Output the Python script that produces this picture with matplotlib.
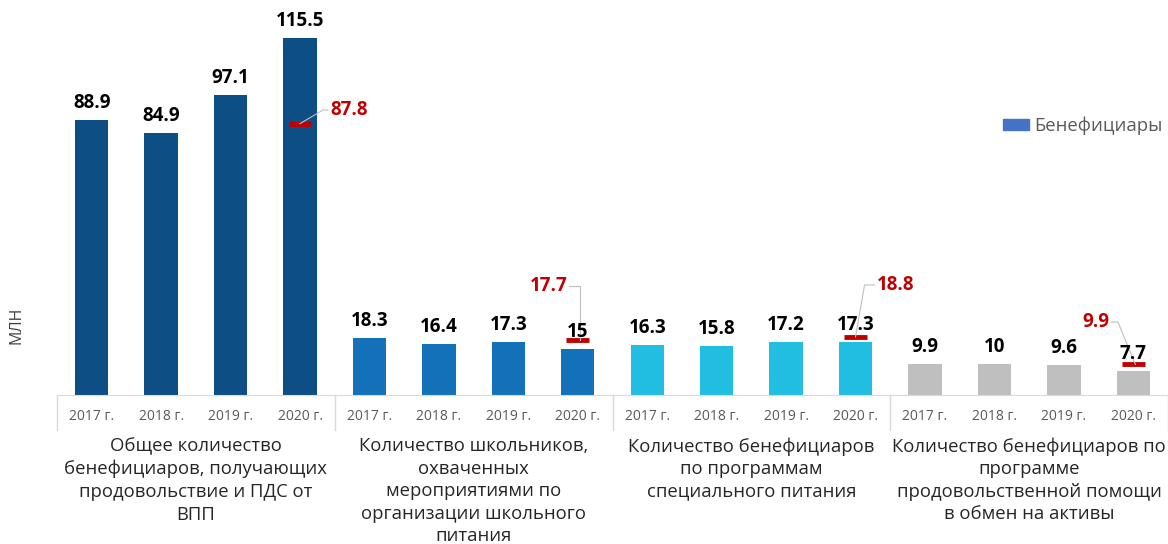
import numpy as np
import matplotlib
matplotlib.use('Agg')
import matplotlib.pyplot as plt
from matplotlib.patches import Patch
import matplotlib.transforms as mtransforms

plt.rcParams['font.family'] = ['Open Sans', 'DejaVu Sans']

# данные
years = ['2017 г.', '2018 г.', '2019 г.', '2020 г.']
group_labels = [
    'Общее количество\nбенефициаров, получающих\nпродовольствие и ПДС от\nВПП',
    'Количество школьников,\nохваченных\nмероприятиями по\nорганизации школьного\nпитания',
    'Количество бенефициаров\nпо программам\nспециального питания',
    'Количество бенефициаров по\nпрограмме\nпродовольственной помощи\nв обмен на активы',
]
values_total = [88.9, 84.9, 97.1, 115.5]
values_school = [18.3, 16.4, 17.3, 15]
values_special = [16.3, 15.8, 17.2, 17.3]
values_assets = [9.9, 10, 9.6, 7.7]
targets_2020 = [87.8, 17.7, 18.8, 9.9]

series = [values_total, values_school, values_special, values_assets]
colors = ['#0D4F84', '#1271B9', '#22BEE1', '#BFBFBF']
red = '#C00000'

fig = plt.figure(figsize=(11.68, 5.44), dpi=100)
ax = fig.add_axes([57 / 1168, 1 - 395 / 544, 1 - 57 / 1168, 395 / 544])

# столбцы
for g, vals in enumerate(series):
    x = np.arange(4) + g * 4
    ax.bar(x, vals, width=0.48, color=colors[g], zorder=2)
    for xi, v in zip(x, vals):
        ax.annotate(f'{v:g}', (xi, v), xytext=(0, 5), textcoords='offset points',
                    ha='center', va='bottom', fontsize=13.5, fontweight='bold',
                    color='black', zorder=4)

# целевые значения 2020 г. (красные отметки)
x2020 = np.arange(4) * 4 + 3
ax.hlines(targets_2020, x2020 - 0.165, x2020 + 0.165, colors=red, linewidth=3.5, zorder=3)

# выноски для целевых значений
lead = '#BFBFBF'
# 87.8
ax.plot([x2020[0], x2020[0] + 0.33, x2020[0] + 0.4], [targets_2020[0], 92.2, 92.2],
        color=lead, lw=0.8, zorder=3)
ax.text(x2020[0] + 0.43, 92.2, f'{targets_2020[0]:g}', color=red, fontsize=13.5,
        fontweight='bold', ha='left', va='center')
# 17.7
ax.plot([x2020[1] - 0.12, x2020[1] + 0.03, x2020[1] + 0.03], [35.3, 35.3, targets_2020[1]],
        color=lead, lw=0.8, zorder=3)
ax.text(x2020[1] - 0.15, 35.3, f'{targets_2020[1]:g}', color=red, fontsize=13.5,
        fontweight='bold', ha='right', va='center')
# 18.8
ax.plot([x2020[2], x2020[2] + 0.13, x2020[2] + 0.27], [targets_2020[2], 35.6, 35.6],
        color=lead, lw=0.8, zorder=3)
ax.text(x2020[2] + 0.3, 35.6, f'{targets_2020[2]:g}', color=red, fontsize=13.5,
        fontweight='bold', ha='left', va='center')
# 9.9
ax.plot([x2020[3] - 0.32, x2020[3] - 0.22, x2020[3] + 0.03], [23.6, 23.6, targets_2020[3]],
        color=lead, lw=0.8, zorder=3)
ax.text(x2020[3] - 0.35, 23.6, f'{targets_2020[3]:g}', color=red, fontsize=13.5,
        fontweight='bold', ha='right', va='center')

# оси
ax.set_xlim(-0.5, 15.5)
ax.set_ylim(0, 127.8)
for s in ['top', 'right', 'left']:
    ax.spines[s].set_visible(False)
ax.spines['bottom'].set_color('#D9D9D9')
ax.set_yticks([])
ax.set_xticks(np.arange(16))
ax.set_xticklabels(years * 4, fontsize=10, color='#595959')
ax.tick_params(axis='x', length=0, pad=10)

# разделители групп
trans = mtransforms.blended_transform_factory(ax.transData, ax.transAxes)
for xs in [-0.5, 3.5, 7.5, 11.5, 15.5]:
    ax.plot([xs, xs], [0, -35 / 395], color='#D9D9D9', lw=1, transform=trans, clip_on=False)

# подписи групп
for g, lbl in enumerate(group_labels):
    ax.text(g * 4 + 1.5, -42 / 395, lbl, transform=trans, ha='center', va='top',
            fontsize=13.3, color='#262626', linespacing=1.33)

fig.text(17 / 1168, 1 - 325 / 544, 'МЛН', rotation=90, ha='center', va='center',
         fontsize=11.5, color='#404040')

ax.legend(handles=[Patch(color='#4472C4', label='Бенефициары')], frameon=False,
          loc='center left', bbox_to_anchor=(999 / 1168, 1 - 126 / 544),
          bbox_transform=fig.transFigure, fontsize=13.3, labelcolor='#595959',
          handlelength=1.45, handleheight=0.55, handletextpad=0.25, borderpad=0.2,
          borderaxespad=0)

plt.savefig('out.png', dpi=100)
